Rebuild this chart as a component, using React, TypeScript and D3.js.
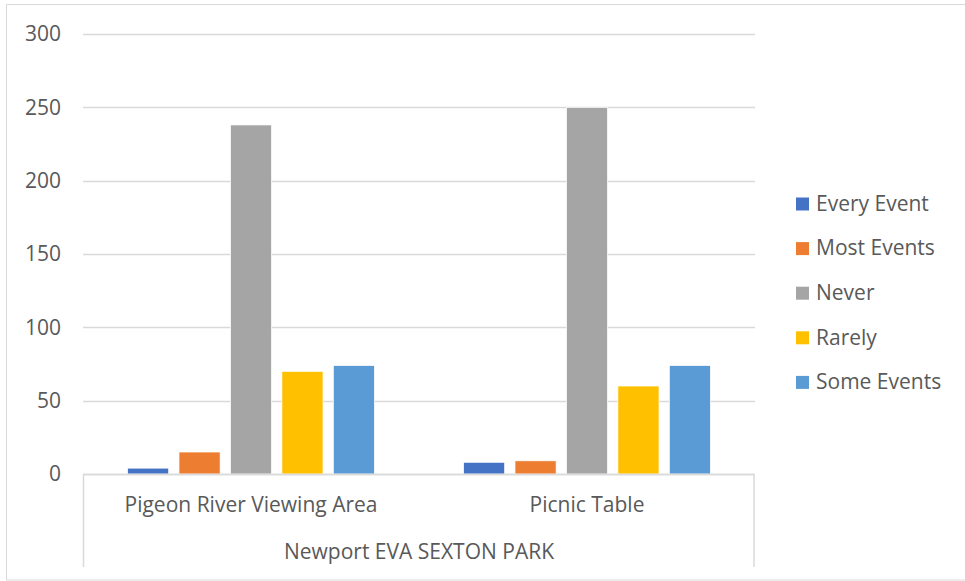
import React from "react";
import * as d3 from "d3";

const categories = ["Pigeon River Viewing Area", "Picnic Table"];
const groupLabel = "Newport EVA SEXTON PARK";
const seriesNames = ["Every Event", "Most Events", "Never", "Rarely", "Some Events"];
const seriesColors = ["#4472C4", "#ED7D31", "#A5A5A5", "#FFC000", "#5B9BD5"];
const everyEvent = [4, 8];
const mostEvents = [15, 9];
const never = [238, 250];
const rarely = [70, 60];
const someEvents = [74, 74];
const yTicks = [0, 50, 100, 150, 200, 250, 300];

const seriesValues = [everyEvent, mostEvents, never, rarely, someEvents];

const W = 965;
const H = 581;
const left = 83;
const right = 755;
const top = 34;
const bottom = 474;
const FONT = "'Open Sans', 'Noto Sans', sans-serif";
const TXT = "#595959";
const FS = 21;

export default function App() {
  const y = d3.scaleLinear().domain([0, 300]).range([bottom, top]);
  const x0 = d3.scaleBand<string>().domain(categories).range([left, right]).padding(0);
  const bw = x0.bandwidth();
  const x1 = d3
    .scaleBand<string>()
    .domain(seriesNames)
    .range([0.1325 * bw, 0.8675 * bw])
    .paddingInner(0.2)
    .paddingOuter(0);

  return (
    <svg width={W} height={H} style={{ position: "absolute", left: 0, top: 0 }}>
      <rect x={0} y={0} width={W} height={H} fill="#fff" />
      {/* outer border */}
      <path d={`M${W + 2},4.5 H6.5 V580 H${W + 2}`} fill="none" stroke="#D9D9D9" strokeWidth={1} />
      {/* gridlines */}
      {yTicks.map((t) => (
        <line
          key={t}
          x1={left}
          x2={right}
          y1={Math.round(y(t)) + 0.5}
          y2={Math.round(y(t)) + 0.5}
          stroke="#D9D9D9"
          strokeWidth={1.5}
        />
      ))}
      {yTicks.map((t) => (
        <text
          key={"l" + t}
          x={61}
          y={y(t)}
          dy="0.35em"
          textAnchor="end"
          fontFamily={FONT}
          fontSize={FS}
          fill={TXT}
        >
          {t}
        </text>
      ))}
      {/* bars */}
      {categories.map((c, ci) => (
        <g key={c} transform={`translate(${x0(c)},0)`}>
          {seriesNames.map((s, si) => {
            const v = seriesValues[si][ci];
            return (
              <rect
                key={s}
                x={x1(s)}
                y={y(v)}
                width={x1.bandwidth()}
                height={bottom - y(v)}
                fill={seriesColors[si]}
                stroke="#fff"
                strokeWidth={0.75}
              />
            );
          })}
        </g>
      ))}
      {/* category axis */}
      <path
        d={`M${left},${bottom + 0.5} H${right - 1} M${left + 0.5},${bottom} V567 M${right - 1},${bottom} V567`}
        fill="none"
        stroke="#D9D9D9"
        strokeWidth={1.5}
      />
      {categories.map((c) => (
        <text
          key={"c" + c}
          x={(x0(c) as number) + bw / 2}
          y={505}
          dy="0.35em"
          textAnchor="middle"
          fontFamily={FONT}
          fontSize={FS}
          fill={TXT}
        >
          {c}
        </text>
      ))}
      <text
        x={(left + right) / 2}
        y={551.5}
        dy="0.35em"
        textAnchor="middle"
        fontFamily={FONT}
        fontSize={FS}
        fill={TXT}
      >
        {groupLabel}
      </text>
      {/* legend */}
      {seriesNames.map((s, i) => {
        const cy = 203.5 + i * 44.6;
        return (
          <g key={"lg" + s}>
            <rect x={796} y={cy - 6} width={13} height={13} fill={seriesColors[i]} />
            <text x={816} y={cy} dy="0.35em" fontFamily={FONT} fontSize={FS} fill={TXT}>
              {s}
            </text>
          </g>
        );
      })}
    </svg>
  );
}
